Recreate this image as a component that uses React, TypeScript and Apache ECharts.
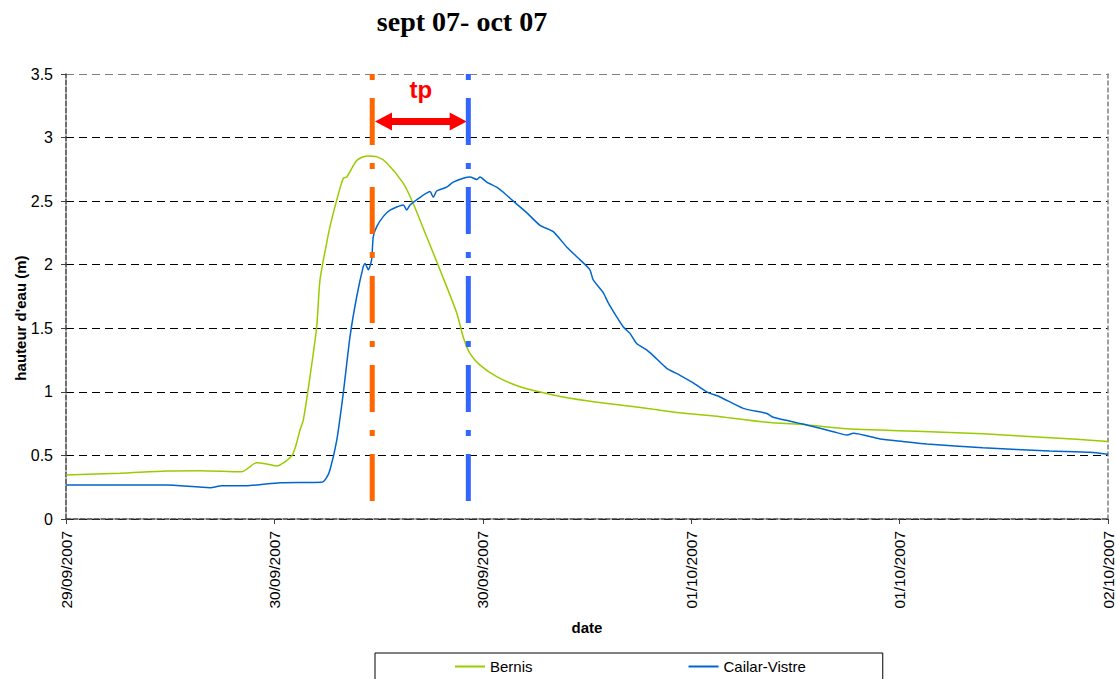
import { useEffect, useRef } from 'react';
import * as echarts from 'echarts';

const TITLE = 'sept 07- oct 07';
const Y_NAME = "hauteur d'eau (m)";
const X_NAME = 'date';
const tickLabels = ['29/09/2007', '30/09/2007', '30/09/2007', '01/10/2007', '01/10/2007', '02/10/2007'];
const HOURS_TOTAL = 72;
const TICK_STEP = 14.4;

// hours since start of axis, water level (m)
const bernisHours = [0, 3.73, 6.96, 9.26, 12.16, 12.58, 13.18, 13.75, 14.56, 15.13, 15.62, 15.89, 16.17, 16.4, 16.86, 17.32, 17.55, 18.01, 18.24, 18.71, 19.16, 19.4, 20.09, 20.78, 21.47, 22.16, 23.31, 24.0, 24.92, 25.84, 27.0, 27.45, 27.92, 28.61, 29.76, 31.37, 33.67, 35.98, 38.28, 40.58, 42.89, 45.19, 48.42, 51.18, 53.94, 56.24, 58.78, 63.36, 67.99, 72];
const bernisLevel = [0.346, 0.36, 0.378, 0.38, 0.372, 0.4, 0.443, 0.435, 0.417, 0.45, 0.5, 0.58, 0.7, 0.78, 1.12, 1.51, 1.88, 2.17, 2.3, 2.51, 2.68, 2.69, 2.82, 2.856, 2.85, 2.8, 2.64, 2.48, 2.22, 1.96, 1.62, 1.43, 1.3, 1.21, 1.12, 1.04, 0.976, 0.93, 0.897, 0.863, 0.83, 0.805, 0.76, 0.74, 0.71, 0.7, 0.69, 0.67, 0.64, 0.61];

const cailarHours = [0, 6.91, 9.95, 10.78, 12.44, 14.79, 17.69, 17.97, 18.24, 18.71, 19.16, 19.62, 20.09, 20.54, 20.66, 20.89, 21.12, 21.23, 21.47, 21.93, 22.39, 23.31, 23.54, 23.77, 24.23, 25.15, 25.38, 25.61, 26.3, 26.76, 27.45, 27.92, 28.38, 28.61, 29.07, 29.76, 30.22, 30.91, 31.83, 32.75, 33.67, 34.59, 35.51, 36.2, 36.43, 37.12, 37.47, 38.05, 38.51, 38.97, 39.43, 40.12, 40.58, 41.51, 42.43, 43.34, 44.27, 45.19, 46.8, 48.42, 48.87, 51.18, 53.02, 53.94, 54.4, 56.24, 57.83, 59.49, 63.36, 67.99, 70.76, 72];
const cailarLevel = [0.268, 0.268, 0.246, 0.262, 0.262, 0.286, 0.29, 0.32, 0.386, 0.62, 0.99, 1.43, 1.75, 1.985, 2.01, 1.96, 2.04, 2.22, 2.3, 2.38, 2.43, 2.47, 2.43, 2.47, 2.51, 2.575, 2.53, 2.58, 2.61, 2.65, 2.68, 2.69, 2.67, 2.69, 2.65, 2.61, 2.57, 2.5, 2.41, 2.31, 2.26, 2.14, 2.04, 1.96, 1.88, 1.78, 1.7, 1.59, 1.51, 1.46, 1.38, 1.33, 1.285, 1.185, 1.13, 1.07, 1.0, 0.96, 0.87, 0.83, 0.8, 0.74, 0.687, 0.66, 0.674, 0.63, 0.61, 0.59, 0.56, 0.535, 0.525, 0.509];

const markerHours = [21.16, 27.8];
const arrowHours = [21.94, 27.1];
const arrowLevel = 3.126;

const zip = (a: number[], b: number[]) => a.map((v, i) => [v, b[i]]);

export default function App() {
  const ref = useRef<HTMLDivElement>(null);
  useEffect(() => {
    const chart = echarts.init(ref.current!, null, { renderer: 'svg' });
    const sans = 'Liberation Sans, Arial, sans-serif';
    const markerSeries = (name: string, t: number, color: string, extra: any = {}) => ({
      name,
      type: 'line',
      data: [[t, 3.5], [t, 0]],
      symbol: 'none',
      silent: true,
      z: 5,
      lineStyle: { color, width: 5, type: [6, 18, 47, 18], cap: 'butt' },
      ...extra,
    });
    chart.setOption({
      animation: false,
      backgroundColor: '#fff',
      graphic: [
        {
          type: 'text',
          x: 462,
          y: 21,
          style: { text: TITLE, font: 'bold 28px "Liberation Serif", "Times New Roman", serif', fill: '#000', textAlign: 'center', textVerticalAlign: 'middle' },
        },
        {
          type: 'text',
          x: 20,
          y: 318,
          rotation: Math.PI / 2,
          style: { text: Y_NAME, font: `bold 15px ${sans}`, fill: '#000', textAlign: 'center', textVerticalAlign: 'middle' },
        },
      ],
      grid: { left: 66, right: 8, top: 74, bottom: 160, containLabel: false, outerBoundsMode: 'none' },
      legend: {
        data: ['Bernis', 'Cailar-Vistre'],
        left: 375,
        top: 653,
        orient: 'horizontal',
        icon: 'rect',
        padding: [6, 77, 20, 80],
        itemGap: 156,
        itemWidth: 30,
        itemHeight: 2,
        borderColor: '#000',
        borderWidth: 1,
        textStyle: { fontFamily: sans, fontSize: 15, color: '#000' },
      },
      xAxis: {
        type: 'value',
        min: 0,
        max: HOURS_TOTAL,
        interval: TICK_STEP,
        name: X_NAME,
        nameLocation: 'middle',
        nameGap: 101,
        nameTextStyle: { fontFamily: sans, fontSize: 15, fontWeight: 'bold', color: '#000' },
        axisLine: { show: true, lineStyle: { color: '#404040', width: 1.5, type: [5, 2] } },
        axisTick: { show: true, length: 5, lineStyle: { color: '#404040' } },
        splitLine: { show: false },
        axisLabel: {
          rotate: 90,
          margin: 12,
          fontFamily: sans,
          fontSize: 15.5,
          color: '#000',
          formatter: (v: number) => tickLabels[Math.round(v / TICK_STEP)] ?? '',
        },
      },
      yAxis: [
        {
          type: 'value',
          min: 0,
          max: 3.5,
          interval: 0.5,
          axisLine: { show: true, lineStyle: { color: '#404040', width: 1.5, type: [5, 2] } },
          axisTick: { show: true, length: 5, lineStyle: { color: '#404040' } },
          axisLabel: { margin: 13, fontFamily: sans, fontSize: 16, color: '#000' },
          splitLine: {
            show: true,
            lineStyle: { color: ['#000', '#000', '#000', '#000', '#000', '#000', '#000', '#808080'], width: 1, type: [8, 5] },
          },
        },
        {
          type: 'value',
          min: 0,
          max: 3.5,
          position: 'right',
          axisLine: { show: true, lineStyle: { color: '#808080', width: 1.5, type: [4, 3] } },
          axisTick: { show: false },
          axisLabel: { show: false },
          splitLine: { show: false },
        },
      ],
      series: [
        {
          name: 'Bernis',
          type: 'line',
          data: zip(bernisHours, bernisLevel),
          symbol: 'none',
          smooth: 0.25,
          color: '#99CC00',
          lineStyle: { color: '#99CC00', width: 1.5 },
          z: 3,
        },
        {
          name: 'Cailar-Vistre',
          type: 'line',
          data: zip(cailarHours, cailarLevel),
          symbol: 'none',
          smooth: 0.2,
          color: '#0066CC',
          lineStyle: { color: '#0066CC', width: 1.5 },
          z: 3,
        },
        markerSeries('debut', markerHours[0], '#FF6600', {
          markLine: {
            silent: true,
            symbol: ['triangle', 'triangle'],
            symbolSize: [18, 17],
            lineStyle: { color: '#FF0000', width: 7, type: 'solid' },
            label: {
              show: true,
              position: 'middle',
              formatter: 'tp',
              color: '#FF0000',
              fontFamily: sans,
              fontWeight: 'bold',
              fontSize: 24,
              distance: 20,
            },
            data: [[{ coord: [arrowHours[0], arrowLevel] }, { coord: [arrowHours[1], arrowLevel] }]],
          },
        }),
        markerSeries('fin', markerHours[1], '#3366FF'),
      ],
    });
    return () => chart.dispose();
  }, []);
  return <div ref={ref} style={{ position: 'absolute', left: 0, top: 0, width: 1116, height: 679 }} />;
}
